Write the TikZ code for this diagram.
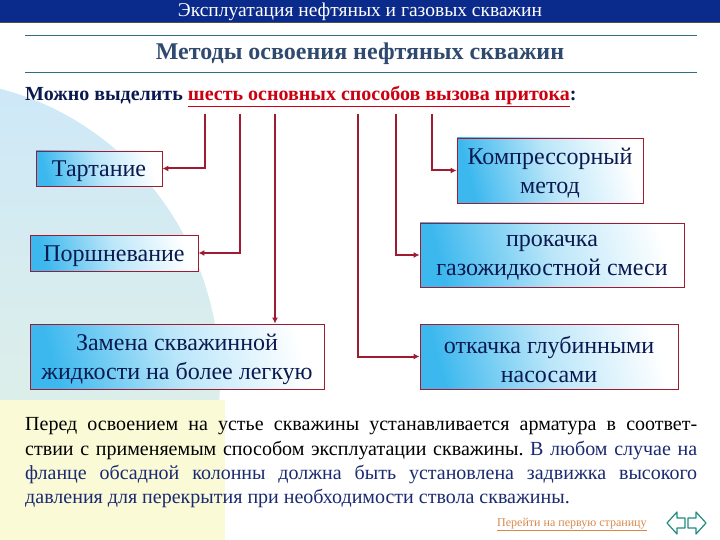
\documentclass[tikz,border=0pt]{standalone}
\usepackage{fontspec}
\setmainfont{Liberation Serif}
\usetikzlibrary{arrows.meta,shadings}
\frenchspacing
\definecolor{barblue}{HTML}{0A2A8C}
\definecolor{titleblue}{HTML}{2F4A6E}
\definecolor{rulecol}{HTML}{2E6E80}
\definecolor{navy}{HTML}{0A1A50}
\definecolor{redline}{HTML}{9E1B32}
\definecolor{introred}{HTML}{CC0010}
\definecolor{boxblue}{HTML}{3CB8EE}
\definecolor{textblue}{HTML}{1A2A70}
\definecolor{linkorange}{HTML}{D8884A}
\definecolor{iconteal}{HTML}{1F8C7C}
\definecolor{bgblue}{HTML}{CDE8F8}
\definecolor{bggreen}{HTML}{EAF4DC}
\definecolor{bgyellow}{HTML}{FAFAD6}
\begin{document}
\begin{tikzpicture}[x=1pt,y=-1pt,
  box/.style={draw=redline, line width=0.8pt, left color=boxblue, right color=white,
    middle color=boxblue!35, shading angle=105, inner sep=0pt},
  boxtext/.style={font=\fontsize{24}{29}\selectfont, text=navy, align=center, inner sep=0pt},
  conn/.style={draw=redline, line width=2pt, -{Latex[length=6pt,width=6pt]}},
  para/.style={anchor=base west, inner sep=0pt, font=\fontsize{20}{24}\selectfont, text=black}]
\useasboundingbox (0,0) rectangle (720,540);
% background
\begin{scope}
  \clip (0,0) rectangle (720,540);
  \shade[top color=bgblue, bottom color=bggreen] (-70,380) ellipse [x radius=290, y radius=300];
  \fill[bgyellow] (0,400) rectangle (225,540);
\end{scope}
% top bar
\fill[barblue] (0,0) rectangle (720,23);
\draw[black!70, line width=1pt] (0,23) -- (720,23);
\node[text=white, font=\fontsize{19.5}{22}\selectfont] (head) at (360,11.5) {Эксплуатация нефтяных и газовых скважин};
% rules and title
\coordinate (r1a) at (25,35); \coordinate (r1b) at (697,35);
\coordinate (r2a) at (25,72); \coordinate (r2b) at (697,72);
\draw[rulecol, line width=0.8pt] (r1a) -- (r1b);
\draw[rulecol, line width=0.8pt] (r2a) -- (r2b);
\node[text=titleblue, font=\bfseries\fontsize{24}{28}\selectfont] (title) at (360,54) {Методы освоения нефтяных скважин};
\node[anchor=base west, inner sep=0pt, text=navy, font=\bfseries\fontsize{20}{24}\selectfont] (intro) at (25,101)
  {Можно выделить \textcolor{introred}{\underline{шесть основных способов вызова притока}}:};
% boxes
\node[box, minimum width=126pt, minimum height=35pt] (tart) at (99,168.5) {};
\node[box, minimum width=168pt, minimum height=36pt] (porsh) at (114,253) {};
\node[box, minimum width=294pt, minimum height=65pt] (zam) at (177,356.5) {};
\node[box, minimum width=186pt, minimum height=65pt] (kompr) at (550,170.5) {};
\node[box, minimum width=264pt, minimum height=64pt] (prok) at (552,255) {};
\node[box, minimum width=258pt, minimum height=65pt] (otk) at (549,356.5) {};
\node[boxtext] (tartT) at ([yshift=-3pt]tart.center) {Тартание};
\node[boxtext] (porshT) at ([yshift=-3pt]porsh.center) {Поршневание};
\node[boxtext] (zamT) at ([yshift=-3pt]zam.center) {Замена скважинной\\жидкости на более легкую};
\node[boxtext] (komprT) at ([yshift=-3pt]kompr.center) {Компрессорный\\метод};
\node[boxtext] (prokT) at ([yshift=-3pt]prok.center) {прокачка\\газожидкостной смеси};
\node[boxtext] (otkT) at ([yshift=-3pt]otk.center) {откачка глубинными\\насосами};
% connectors
\coordinate (s1) at (205,114);
\coordinate (s2) at (240,114);
\coordinate (s3) at (275,114);
\coordinate (s4) at (358,114);
\coordinate (s5) at (396,114);
\coordinate (s6) at (432,114);
\draw[conn] (s1) |- (tart.east);
\draw[conn] (s2) |- (porsh.east);
\draw[conn] (s3) -- (s3 |- zam.north);
\draw[conn] (s4) |- (otk.west);
\draw[conn] (s5) |- (prok.west);
\draw[conn] (s6) |- (kompr.west);
% paragraph
\node[para] (p1) at (25,430) {\makebox[672pt][s]{Перед освоением на устье скважины устанавливается арматура в соответ-}};
\node[para] (p2) at (25,455) {\makebox[672pt][s]{ствии с применяемым способом эксплуатации скважины. \textcolor{textblue}{В любом случае на}}};
\node[para, text=textblue] (p3) at (25,479) {\makebox[672pt][s]{фланце обсадной колонны должна быть установлена задвижка высокого}};
\node[para, text=textblue] (p4) at (25,503) {давления для перекрытия при необходимости ствола скважины.};
% footer
\node[anchor=base west, inner sep=0pt, text=linkorange, font=\fontsize{12}{14}\selectfont] (link) at (497,526) {\underline{Перейти на первую страницу}};
\draw[iconteal, line width=1.2pt, fill=white, line join=round] (667,523) -- (677,512) -- (677,518) -- (685,518) -- (685,528) -- (677,528) -- (677,534) -- cycle;
\draw[iconteal, line width=1.2pt, fill=white, line join=round] (706,523) -- (696,512) -- (696,518) -- (688,518) -- (688,528) -- (696,528) -- (696,534) -- cycle;
\end{tikzpicture}
\end{document}
